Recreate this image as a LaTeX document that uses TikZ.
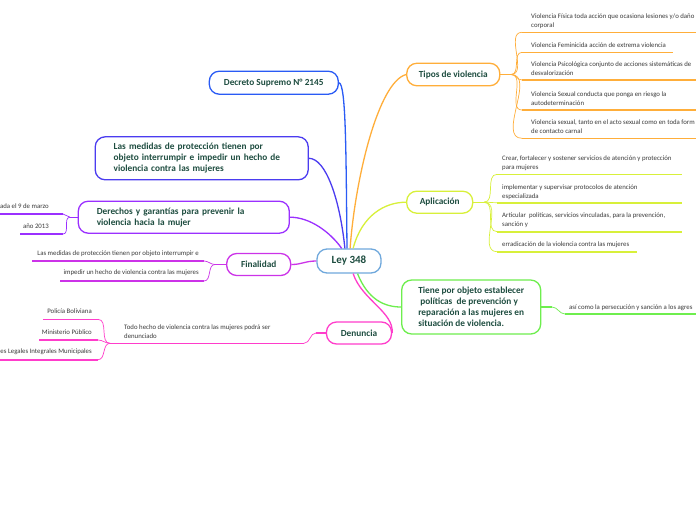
\documentclass[tikz,border=0pt]{standalone}
\usepackage{fontspec}
\setmainfont{Carlito}
\definecolor{txt}{HTML}{1E4D40}
\definecolor{leaftxt}{HTML}{3A3A3A}
\definecolor{cLey}{HTML}{6FA8DC}
\definecolor{cDec}{HTML}{2A5BF5}
\definecolor{cMed}{HTML}{4B3CF0}
\definecolor{cDer}{HTML}{9B30FF}
\definecolor{cFin}{HTML}{CC33E8}
\definecolor{cDen}{HTML}{FF3DCB}
\definecolor{cTip}{HTML}{FFAE3A}
\definecolor{cApl}{HTML}{D8F03A}
\definecolor{cTie}{HTML}{6EEE4E}
\tikzset{
  mainbox/.style={draw, rounded corners=10pt, line width=1.3pt, fill=white, text=txt,
    font=\bfseries\fontsize{9.3}{11}\selectfont, inner sep=0pt},
  leaf/.style={inner sep=0pt, text=leaftxt, font=\fontsize{6.8}{8.7}\selectfont},
  br/.style={line width=1.3pt},
  ul/.style={line width=1.6pt},
  lc/.style={line width=0.7pt},
}
\begin{document}
\begin{tikzpicture}[x=1pt,y=-1pt]
\useasboundingbox (0,0) rectangle (696,520);
\fill[white] (0,0) rectangle (696,520);

% ---------- main nodes ----------
\node[mainbox, draw=cLey, minimum width=64pt, minimum height=24pt,
      font=\bfseries\fontsize{11}{13}\selectfont] (ley) at (349,261) {Ley 348};
\node[mainbox, draw=cDec, minimum width=129pt, minimum height=23pt] (dec) at (273.8,82.7) {Decreto Supremo N° 2145};
\node[mainbox, draw=cMed, minimum width=213pt, minimum height=43pt, text width=176pt, align=left] (med) at (201.7,158.3)
  {Las medidas de protección tienen por\\objeto interrumpir e impedir un hecho de\\violencia contra las mujeres};
\node[mainbox, draw=cDer, minimum width=211pt, minimum height=32pt, text width=174pt, align=left] (der) at (183.8,217.2)
  {Derechos y garantías para prevenir la\\violencia hacia la mujer};
\node[mainbox, draw=cFin, minimum width=64pt, minimum height=22pt] (fin) at (258.7,264.5) {Finalidad};
\node[mainbox, draw=cDen, minimum width=65pt, minimum height=22pt] (den) at (359,333) {Denuncia};
\node[mainbox, draw=cTip, minimum width=93pt, minimum height=22.5pt] (tip) at (453.3,74.5) {Tipos de violencia};
\node[mainbox, draw=cApl, minimum width=66pt, minimum height=22pt] (apl) at (439.7,202.2) {Aplicación};
\node[mainbox, draw=cTie, minimum width=139pt, minimum height=54pt, align=left] (tie) at (471.2,307)
  {Tiene por objeto establecer\\\hspace{2pt}políticas\ \ de prevención y\\reparación a las mujeres en\\situación de violencia.};

% ---------- branches from Ley 348 ----------
\draw[br, cDec] (ley.99) .. controls (346,150) and (346,84) .. (dec.east);
\draw[br, cMed] (ley.108) .. controls (340,200) and (326,158.3) .. (med.east);
\draw[br, cDer] (ley.120) .. controls (330,232) and (310,217.2) .. (der.east);
\draw[br, cTip] (ley.85) .. controls (355,180) and (378,82) .. (tip.west);
\draw[br, cApl] (ley.72) .. controls (362,215) and (385,202.2) .. (apl.west);
\draw[br, cTie] (ley.-56) .. controls (368,300) and (385,307) .. (tie.west);
\draw[br, cDen] (ley.-72) .. controls (362,300) and (394,312) .. (den.east);
\draw[br, cFin] (ley.west) .. controls (305,261) and (302,264.5) .. (fin.east);

% ---------- Tipos de violencia ----------
\coordinate (tj) at (511,74.5);
\coordinate (t1) at (522,32.3);  \coordinate (t1e) at (700,32.3);
\coordinate (t2) at (522,52.3);  \coordinate (t2e) at (672.7,52.3);
\coordinate (t3) at (522,80);    \coordinate (t3e) at (700,80);
\coordinate (t4) at (522,110);   \coordinate (t4e) at (700,110);
\coordinate (t5) at (522,138.3); \coordinate (t5e) at (700,138.3);
\draw[br, cTip] (tip.east) -- (tj);
\foreach \p in {t1,t2,t3,t4,t5}{
  \draw[lc, cTip] (tj) to[out=0,in=180] (\p);
  \draw[ul, cTip] (\p) -- (\p e);
}
\node[leaf, anchor=north west, align=left] (tl1) at (531,13.7) {Violencia Física toda acción que ocasiona lesiones y/o daño\\corporal};
\node[leaf, anchor=north west, align=left] (tl2) at (531,42.7) {Violencia Feminicida acción de extrema violencia};
\node[leaf, anchor=north west, align=left] (tl3) at (531,62) {Violencia Psicológica conjunto de acciones sistemáticas de\\desvalorización};
\node[leaf, anchor=north west, align=left] (tl4) at (531,92) {Violencia Sexual conducta que ponga en riesgo la\\autodeterminación};
\node[leaf, anchor=north west, align=left] (tl5) at (531,119.7) {Violencia sexual, tanto en el acto sexual como en toda form\\de contacto carnal};

% ---------- Aplicación ----------
\coordinate (aj) at (484,202.2);
\coordinate (a1) at (497,174.3); \coordinate (a1e) at (682,174.3);
\coordinate (a2) at (497,202.7); \coordinate (a2e) at (682,202.7);
\coordinate (a3) at (497,231.7); \coordinate (a3e) at (682,231.7);
\coordinate (a4) at (497,251.7); \coordinate (a4e) at (636.7,251.7);
\draw[br, cApl] (apl.east) -- (aj);
\foreach \p in {a1,a2,a3,a4}{
  \draw[lc, cApl] (aj) to[out=0,in=180] (\p);
  \draw[ul, cApl] (\p) -- (\p e);
}
\node[leaf, anchor=north west, align=left] (al1) at (502,156) {Crear, fortalecer y sostener servicios de atención y protección\\para mujeres};
\node[leaf, anchor=north west, align=left] (al2) at (502,184.7) {implementar y supervisar protocolos de atención\\especializada};
\node[leaf, anchor=north west, align=left] (al3) at (502,213) {Articular\ \ políticas, servicios vinculadas, para la prevención,\\sanción y};
\node[leaf, anchor=north west, align=left] (al4) at (502,241.3) {erradicación de la violencia contra las mujeres};

% ---------- Tiene por objeto ----------
\coordinate (ej) at (552,307);
\coordinate (e1) at (565,314); \coordinate (e1e) at (700,314);
\draw[br, cTie] (tie.east) -- (ej);
\draw[lc, cTie] (ej) to[out=0,in=180] (e1);
\draw[ul, cTie] (e1) -- (e1e);
\node[leaf, anchor=north west, align=left] (el1) at (569,304.7) {así como la persecución y sanción a los agres};

% ---------- Derechos ----------
\coordinate (dj) at (70,217.2);
\coordinate (d1) at (63,214); \coordinate (d1e) at (-5,214);
\coordinate (d2) at (63,234); \coordinate (d2e) at (20,234);
\draw[br, cDer] (der.west) -- (dj);
\foreach \p in {d1,d2}{
  \draw[lc, cDer] (dj) to[out=180,in=0] (\p);
  \draw[ul, cDer] (\p) -- (\p e);
}
\node[leaf, anchor=north east, align=right] (dl1) at (49,203.7) {ada el 9 de marzo};
\node[leaf, anchor=north east, align=right] (dl2) at (49,223.7) {año 2013};

% ---------- Finalidad ----------
\coordinate (fj) at (215,264.5);
\coordinate (f1) at (204,261); \coordinate (f1e) at (32,261);
\coordinate (f2) at (204,281); \coordinate (f2e) at (60,281);
\draw[br, cFin] (fin.west) -- (fj);
\foreach \p in {f1,f2}{
  \draw[lc, cFin] (fj) to[out=180,in=0] (\p);
  \draw[ul, cFin] (\p) -- (\p e);
}
\node[leaf, anchor=north east, align=right] (fl1) at (199,250.3) {Las medidas de protección tienen por objeto interrumpir e};
\node[leaf, anchor=north east, align=right] (fl2) at (199,270) {impedir un hecho de violencia contra las mujeres};

% ---------- Denuncia ----------
\coordinate (nj) at (316,333);
\coordinate (n1) at (304,343.3); \coordinate (n1e) at (120,343.3);
\coordinate (nj2) at (110,343.3);
\coordinate (s1) at (98,319.3); \coordinate (s1e) at (43,319.3);
\coordinate (s2) at (98,340);   \coordinate (s2e) at (39,340);
\coordinate (s3) at (98,359.7); \coordinate (s3e) at (-5,359.7);
\draw[br, cDen] (den.west) -- (nj);
\draw[lc, cDen] (nj) to[out=180,in=0] (n1);
\draw[ul, cDen] (n1) -- (n1e);
\draw[lc, cDen] (n1e) -- (nj2);
\foreach \p in {s1,s2,s3}{
  \draw[lc, cDen] (nj2) to[out=180,in=0] (\p);
  \draw[ul, cDen] (\p) -- (\p e);
}
\node[leaf, anchor=north west, align=left] (nl1) at (124,324.7) {Todo hecho de violencia contra las mujeres podrá ser\\denunciado};
\node[leaf, anchor=north east, align=right] (sl1) at (92,309) {Policía Boliviana};
\node[leaf, anchor=north east, align=right] (sl2) at (92,329.3) {Ministerio Público};
\node[leaf, anchor=north east, align=right] (sl3) at (92,349) {es Legales Integrales Municipales};
\end{tikzpicture}
\end{document}
